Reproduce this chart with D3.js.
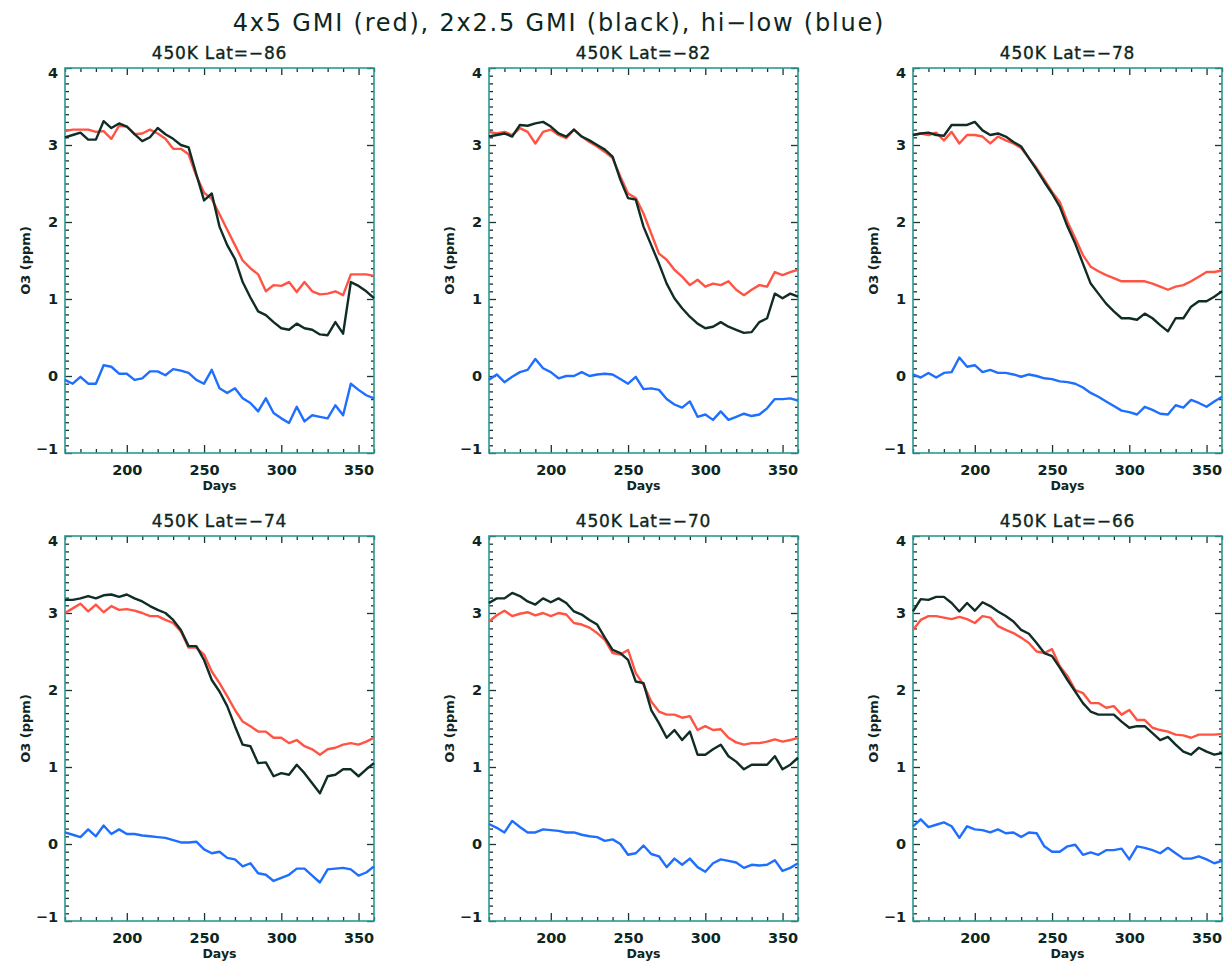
<!DOCTYPE html>
<html>
<head>
<meta charset="utf-8">
<script src="https://cdn.jsdelivr.net/npm/d3@7/dist/d3.min.js"></script>
<style>
  html, body { margin: 0; padding: 0; background: #ffffff; }
  svg { display: block; }
</style>
</head>
<body>
<script>
// ---------- DATA ----------
const days = [160,165,170,175,180,185,190,195,200,205,210,215,220,225,230,235,240,245,250,255,260,265,270,275,280,285,290,295,300,305,310,315,320,325,330,335,340,345,350,355,360];
const lats = [-86, -82, -78, -74, -70, -66];
const xTicks = [200, 250, 300, 350];
const yTicks = [-1, 0, 1, 2, 3, 4];

// 4x5 GMI (red)
const red86 = [3.18,3.20,3.20,3.20,3.17,3.18,3.08,3.25,3.24,3.14,3.15,3.20,3.15,3.08,2.95,2.95,2.88,2.60,2.38,2.30,2.10,1.90,1.70,1.50,1.40,1.32,1.10,1.18,1.17,1.22,1.09,1.22,1.10,1.06,1.07,1.10,1.05,1.32,1.32,1.32,1.30];
const red82 = [3.17,3.15,3.17,3.13,3.22,3.17,3.02,3.17,3.20,3.13,3.09,3.20,3.11,3.04,2.98,2.91,2.83,2.59,2.37,2.31,2.11,1.85,1.59,1.51,1.38,1.29,1.18,1.25,1.16,1.20,1.18,1.23,1.12,1.05,1.12,1.18,1.16,1.35,1.31,1.35,1.38];
const red78 = [3.13,3.15,3.13,3.16,3.06,3.17,3.02,3.13,3.13,3.11,3.02,3.11,3.06,3.02,2.96,2.83,2.70,2.55,2.39,2.26,2.00,1.79,1.57,1.42,1.36,1.31,1.27,1.23,1.23,1.23,1.23,1.20,1.16,1.12,1.16,1.18,1.23,1.29,1.35,1.35,1.37];
const red74 = [3.00,3.06,3.12,3.02,3.11,3.01,3.09,3.04,3.05,3.03,3.00,2.96,2.96,2.91,2.87,2.76,2.55,2.55,2.46,2.24,2.09,1.92,1.74,1.59,1.53,1.46,1.46,1.38,1.38,1.31,1.35,1.27,1.23,1.16,1.23,1.25,1.29,1.31,1.29,1.33,1.38];
const red70 = [2.89,2.97,3.03,2.96,2.99,3.01,2.97,3.00,2.96,3.00,2.98,2.87,2.85,2.81,2.74,2.65,2.48,2.46,2.52,2.22,2.07,1.85,1.72,1.68,1.68,1.64,1.66,1.48,1.53,1.48,1.49,1.38,1.32,1.29,1.31,1.31,1.33,1.36,1.33,1.35,1.38];
const red66 = [2.78,2.91,2.96,2.96,2.94,2.92,2.95,2.92,2.87,2.96,2.94,2.83,2.78,2.74,2.68,2.61,2.50,2.48,2.53,2.31,2.18,2.00,1.96,1.83,1.83,1.77,1.79,1.68,1.74,1.61,1.61,1.51,1.48,1.46,1.42,1.41,1.38,1.42,1.42,1.42,1.43];

// 2x2.5 GMI (black)
const black86 = [3.10,3.13,3.16,3.07,3.07,3.31,3.22,3.28,3.24,3.14,3.05,3.10,3.22,3.14,3.08,3.00,2.97,2.62,2.28,2.37,1.94,1.70,1.52,1.22,1.02,0.84,0.79,0.70,0.62,0.60,0.68,0.62,0.60,0.54,0.53,0.70,0.55,1.22,1.17,1.10,1.01];
const black82 = [3.11,3.13,3.15,3.11,3.26,3.25,3.28,3.30,3.24,3.15,3.11,3.20,3.11,3.06,3.00,2.94,2.85,2.55,2.31,2.29,1.94,1.70,1.46,1.20,1.01,0.88,0.77,0.68,0.62,0.64,0.70,0.64,0.60,0.56,0.57,0.70,0.75,1.07,1.01,1.07,1.03];
const black78 = [3.13,3.15,3.16,3.13,3.12,3.26,3.26,3.26,3.30,3.19,3.13,3.15,3.11,3.04,2.98,2.83,2.68,2.52,2.37,2.20,1.94,1.72,1.46,1.20,1.07,0.94,0.84,0.75,0.75,0.73,0.81,0.75,0.66,0.58,0.75,0.75,0.90,0.97,0.97,1.03,1.10];
const black74 = [3.17,3.17,3.19,3.22,3.19,3.23,3.24,3.21,3.24,3.19,3.15,3.09,3.04,3.00,2.91,2.78,2.57,2.57,2.39,2.13,1.98,1.79,1.53,1.29,1.27,1.05,1.06,0.88,0.92,0.90,1.03,0.92,0.79,0.66,0.88,0.90,0.97,0.97,0.88,0.97,1.05];
const black70 = [3.13,3.19,3.19,3.26,3.22,3.15,3.11,3.19,3.14,3.19,3.13,3.02,2.98,2.91,2.85,2.68,2.52,2.48,2.39,2.11,2.09,1.74,1.57,1.38,1.48,1.35,1.46,1.16,1.16,1.23,1.29,1.14,1.07,0.97,1.03,1.03,1.03,1.14,0.97,1.03,1.12];
const black66 = [3.02,3.18,3.17,3.21,3.21,3.13,3.02,3.13,3.03,3.14,3.09,3.02,2.96,2.89,2.78,2.73,2.61,2.48,2.44,2.29,2.13,1.98,1.83,1.72,1.68,1.68,1.68,1.59,1.51,1.53,1.53,1.44,1.35,1.39,1.29,1.20,1.16,1.25,1.20,1.16,1.18];

// hi-low (blue)
const blue86 = [-0.05,-0.10,-0.01,-0.10,-0.10,0.14,0.12,0.03,0.03,-0.05,-0.03,0.06,0.06,0.01,0.09,0.07,0.04,-0.05,-0.10,0.08,-0.16,-0.22,-0.16,-0.29,-0.35,-0.46,-0.29,-0.48,-0.55,-0.61,-0.40,-0.59,-0.51,-0.53,-0.55,-0.38,-0.51,-0.10,-0.18,-0.25,-0.29];
const blue82 = [-0.05,0.02,-0.08,-0.01,0.05,0.08,0.22,0.10,0.05,-0.03,0.00,0.00,0.05,0.00,0.02,0.03,0.02,-0.04,-0.10,-0.01,-0.17,-0.16,-0.18,-0.30,-0.37,-0.41,-0.33,-0.53,-0.50,-0.57,-0.46,-0.57,-0.53,-0.49,-0.52,-0.50,-0.42,-0.30,-0.30,-0.29,-0.32];
const blue78 = [0.02,-0.02,0.04,-0.02,0.04,0.05,0.24,0.12,0.14,0.05,0.08,0.04,0.04,0.02,-0.01,0.02,0.00,-0.03,-0.04,-0.07,-0.08,-0.10,-0.15,-0.22,-0.27,-0.33,-0.39,-0.45,-0.47,-0.50,-0.40,-0.44,-0.49,-0.50,-0.38,-0.41,-0.31,-0.35,-0.40,-0.33,-0.27];
const blue74 = [0.15,0.12,0.09,0.19,0.10,0.24,0.13,0.19,0.13,0.13,0.11,0.10,0.09,0.08,0.05,0.02,0.02,0.03,-0.07,-0.12,-0.10,-0.18,-0.20,-0.29,-0.25,-0.38,-0.40,-0.48,-0.44,-0.40,-0.32,-0.32,-0.41,-0.50,-0.33,-0.32,-0.31,-0.33,-0.41,-0.37,-0.29];
const blue70 = [0.26,0.21,0.15,0.30,0.22,0.15,0.15,0.19,0.18,0.17,0.15,0.15,0.12,0.10,0.09,0.04,0.06,0.00,-0.14,-0.12,-0.02,-0.13,-0.16,-0.30,-0.19,-0.27,-0.19,-0.30,-0.36,-0.25,-0.20,-0.22,-0.24,-0.31,-0.27,-0.28,-0.27,-0.21,-0.35,-0.31,-0.25];
const blue66 = [0.23,0.32,0.22,0.25,0.28,0.23,0.08,0.23,0.19,0.18,0.15,0.19,0.14,0.15,0.09,0.15,0.14,-0.03,-0.10,-0.10,-0.03,-0.01,-0.14,-0.11,-0.14,-0.08,-0.08,-0.06,-0.20,-0.03,-0.05,-0.08,-0.12,-0.05,-0.12,-0.19,-0.19,-0.16,-0.20,-0.25,-0.22];

const redSeries = [red86, red82, red78, red74, red70, red66];
const blackSeries = [black86, black82, black78, black74, black70, black66];
const blueSeries = [blue86, blue82, blue78, blue74, blue70, blue66];

// ---------- LAYOUT ----------
const W = 1226, H = 967;
const colLeft = [65, 489, 913];
const rowTop = [68, 536];
const pw = 309, ph = 385;
const frameColor = "#2a9b94";
const tickColor = "#16362f";
const textColor = "#0e2621";
const lineColors = { red: "#ff5444", black: "#0f2d26", blue: "#1e6fff" };

const svg = d3.select("body").append("svg")
  .attr("width", W).attr("height", H);

svg.append("text")
  .attr("x", 559).attr("y", 31)
  .attr("text-anchor", "middle")
  .attr("font-family", "DejaVu Sans, sans-serif")
  .attr("font-size", 24)
  .attr("letter-spacing", 1.8)
  .attr("fill", textColor)
  .text("4x5 GMI (red), 2x2.5 GMI (black), hi\u2212low (blue)");

lats.forEach((lat, i) => {
  const col = i % 3, row = Math.floor(i / 3);
  const left = colLeft[col], top = rowTop[row];
  const x = d3.scaleLinear().domain([160, 360]).range([0, pw]);
  const y = d3.scaleLinear().domain([-1, 4]).range([ph, 0]);
  const g = svg.append("g").attr("transform", `translate(${left},${top})`);

  // panel title
  g.append("text")
    .attr("x", pw / 2).attr("y", -9)
    .attr("text-anchor", "middle")
    .attr("font-family", "DejaVu Sans, sans-serif")
    .attr("font-size", 17)
    .attr("letter-spacing", 0.8)
    .attr("stroke", textColor).attr("stroke-width", 0.35)
    .attr("fill", textColor)
    .text(`450K Lat=\u2212${Math.abs(lat)}`);

  // minor ticks
  const xMinor = d3.range(160, 361, 10).filter(d => !xTicks.includes(d));
  const yMinor = d3.range(-10, 41, 1).map(d => d / 10).filter(d => !yTicks.includes(d));

  const styleAxis = sel => {
    sel.select(".domain").remove();
    sel.selectAll("line").attr("stroke", tickColor).attr("stroke-width", 1.3);
    sel.selectAll("text")
      .attr("fill", textColor)
      .attr("font-family", "DejaVu Sans, sans-serif")
      .attr("font-weight", "bold")
      .attr("font-size", 14.5);
  };

  g.append("g").attr("transform", `translate(0,${ph})`)
    .call(d3.axisBottom(x).tickValues(xMinor).tickSize(-4).tickFormat(""))
    .call(styleAxis);
  g.append("g").attr("transform", `translate(0,${ph})`)
    .call(d3.axisBottom(x).tickValues(xTicks).tickSize(-8).tickPadding(12).tickFormat(d3.format("d")))
    .call(styleAxis);
  g.append("g")
    .call(d3.axisTop(x).tickValues(xMinor).tickSize(-4).tickFormat(""))
    .call(styleAxis);
  g.append("g")
    .call(d3.axisTop(x).tickValues(xTicks).tickSize(-7).tickFormat(""))
    .call(styleAxis);

  g.append("g")
    .call(d3.axisLeft(y).tickValues(yMinor).tickSize(-4).tickFormat(""))
    .call(styleAxis);
  g.append("g")
    .call(d3.axisLeft(y).tickValues(yTicks).tickSize(-7).tickPadding(7).tickFormat(d3.format("d")))
    .call(styleAxis)
    .call(sel => sel.selectAll(".tick text")
      .attr("dy", d => d === 4 ? "0.62em" : (d === -1 ? "0.05em" : "0.32em")));
  g.append("g").attr("transform", `translate(${pw},0)`)
    .call(d3.axisRight(y).tickValues(yMinor).tickSize(-3).tickFormat(""))
    .call(styleAxis);
  g.append("g").attr("transform", `translate(${pw},0)`)
    .call(d3.axisRight(y).tickValues(yTicks).tickSize(-7).tickFormat(""))
    .call(styleAxis);

  // frame
  g.append("rect")
    .attr("x", 0).attr("y", 0).attr("width", pw).attr("height", ph)
    .attr("fill", "none").attr("stroke", frameColor).attr("stroke-width", 1.6);

  // axis titles
  g.append("text")
    .attr("transform", `translate(-35,${ph / 2}) rotate(-90)`)
    .attr("text-anchor", "middle")
    .attr("font-family", "DejaVu Sans, sans-serif")
    .attr("font-weight", "bold")
    .attr("font-size", 13)
    .attr("fill", textColor)
    .text("O3 (ppm)");
  g.append("text")
    .attr("x", pw / 2).attr("y", ph + 37)
    .attr("text-anchor", "middle")
    .attr("font-family", "DejaVu Sans, sans-serif")
    .attr("font-weight", "bold")
    .attr("font-size", 12.5)
    .attr("fill", textColor)
    .text("Days");

  // lines
  const line = d3.line().x((d, k) => x(days[k])).y(d => y(d));
  [[redSeries[i], lineColors.red], [blackSeries[i], lineColors.black], [blueSeries[i], lineColors.blue]]
    .forEach(([vals, c]) => {
      g.append("path")
        .datum(vals)
        .attr("d", line)
        .attr("fill", "none")
        .attr("stroke", c)
        .attr("stroke-width", 2.4)
        .attr("stroke-linejoin", "round");
    });
});
</script>
</body>
</html>
